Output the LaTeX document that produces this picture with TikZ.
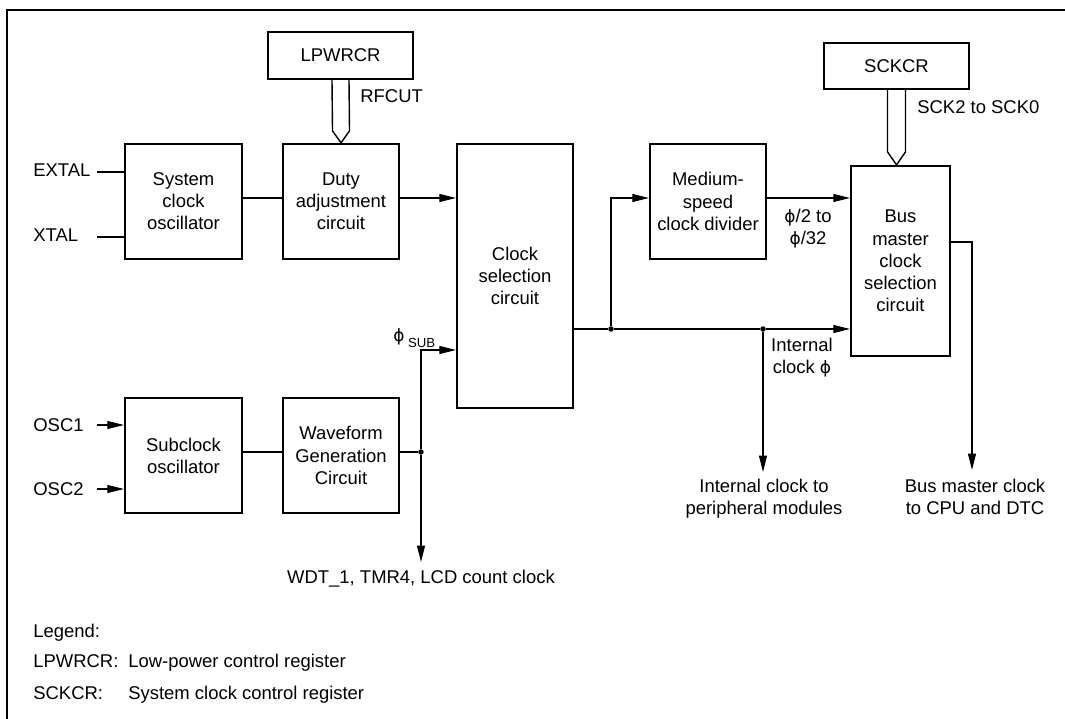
\documentclass[tikz,border=0pt]{standalone}
\usepackage{fontspec}
\setmainfont{Liberation Sans}
\newfontfamily\phifont[Scale=0.92]{DejaVu Sans}
\usepackage{tikz}
\usetikzlibrary{arrows.meta,calc,positioning}
\newcommand{\phiup}{{\phifont ϕ}}
\tikzset{
  box/.style   = {draw, line width=1.3pt, align=center, inner sep=0pt,
                  font=\fontsize{10.5}{12.6}\selectfont},
  wire/.style  = {line width=0.6pt},
  sig/.style   = {line width=0.6pt, -{Triangle[length=3.3mm,width=1.6mm]}},
  dot/.style   = {circle, fill=black, inner sep=1.1pt},
  lbl/.style   = {font=\fontsize{10.5}{12.6}\selectfont, inner sep=0pt, align=center},
  busarr/.style = {line width=0.8pt, line join=miter},
  frame/.style = {line width=1.4pt},
}

\begin{document}
\begin{tikzpicture}[x=0.02cm,y=-0.02cm]
  \useasboundingbox (0,0) rectangle (1065,719);
  \draw[frame] (7,719) -- (7,10) -- (1065,10);
  % registers
  \node[box, minimum width=2.9cm, minimum height=0.94cm] (lpwrcr) at (340.5,55.5) {LPWRCR};
  \node[box, minimum width=2.9cm, minimum height=0.92cm] (sckcr) at (896.5,66) {SCKCR};
  % circuit blocks
  \node[box, minimum width=2.34cm, minimum height=2.3cm] (sysosc) at (183.5,201.5) {System\\clock\\oscillator};
  \node[box, minimum width=2.32cm, minimum height=2.3cm] (duty) at (341,201.5) {Duty\\adjustment\\circuit};
  \node[box, minimum width=2.32cm, minimum height=5.28cm] (clksel) at (515,276) {Clock\\selection\\circuit};
  \node[box, minimum width=2.32cm, minimum height=2.3cm] (mscd) at (708,201.5) {Medium-\\speed\\clock divider};
  \node[box, minimum width=1.98cm, minimum height=3.8cm] (busm) at (900.5,261) {Bus\\master\\clock\\selection\\circuit};
  \node[box, minimum width=2.34cm, minimum height=2.3cm] (subosc) at (183.5,455.5) {Subclock\\oscillator};
  \node[box, minimum width=2.32cm, minimum height=2.3cm] (wave) at (341,455.5) {Waveform\\Generation\\Circuit};
  % rows, junctions and free ends
  \coordinate (r1) at (0,198);
  \coordinate (r2) at (0,329);
  \coordinate (rsub) at (0,350);
  \coordinate (r3) at (0,452);
  \node[dot] (j1) at (611,329) {};
  \node[dot] (j2) at (763,329) {};
  \node[dot] (j3) at (421,452) {};
  \coordinate (pout) at (763,472);
  \coordinate (bcorner) at (972,242);
  \coordinate (bout) at (972,470);
  \coordinate (wout) at (421,562);
  % pins
  \node[lbl, anchor=base west] (extal) at (33,177) {EXTAL};
  \node[lbl, anchor=base west] (xtal) at (33,242) {XTAL};
  \node[lbl, anchor=base west] (osc1) at (33,432) {OSC1};
  \node[lbl, anchor=base west] (osc2) at (33,495) {OSC2};
  \coordinate (extalp) at (97,172);
  \coordinate (xtalp) at (97,237);
  \coordinate (osc1p) at (97,425);
  \coordinate (osc2p) at (97,489);
  \draw[wire] (extalp) -- (extalp -| sysosc.west);
  \draw[wire] (xtalp) -- (xtalp -| sysosc.west);
  \draw[sig] (osc1p) -- (osc1p -| subosc.west);
  \draw[sig] (osc2p) -- (osc2p -| subosc.west);
  % system clock path
  \draw[wire] (sysosc.east |- r1) -- (duty.west |- r1);
  \draw[sig] (duty.east |- r1) -- (clksel.west |- r1);
  \draw[busarr] ($(lpwrcr.south)+(-8.5,0)$) -- ($(duty.north)+(-8.5,-12)$) -- (duty.north)
    -- ($(duty.north)+(8.5,-12)$) -- ($(lpwrcr.south)+(8.5,0)$);
  \node[lbl, anchor=base west] (rfcut) at (360,103) {RFCUT};
  % subclock path
  \draw[wire] (subosc.east |- r3) -- (wave.west |- r3);
  \draw[wire] (wave.east |- r3) -- (j3);
  \draw[sig] (j3) -- (j3 |- rsub) -- (clksel.west |- rsub);
  \draw[sig] (j3) -- (wout);
  \node[lbl, anchor=base west] (phisub) at (393,342)
    {\phiup\hspace{2pt}\raisebox{-3pt}{\fontsize{7.5}{9}\selectfont SUB}};
  \node[lbl, anchor=base] (wdt) at (421,583) {WDT\_1, TMR4, LCD count clock};
  % internal clock
  \draw[wire] (clksel.east |- r2) -- (j1);
  \draw[wire] (j1) -- (j2);
  \draw[sig] (j2) -- (busm.west |- r2);
  \draw[sig] (j1) -- (j1 |- r1) -- (mscd.west |- r1);
  \draw[sig] (mscd.east |- r1) -- (busm.west |- r1);
  \draw[sig] (j2) -- (pout);
  \node[lbl] (divlbl) at (808,229) {\phiup/2 to\\\phiup/32};
  \node[lbl] (intlbl) at (802,358) {Internal\\clock \phiup};
  \node[lbl] (perilbl) at (764,498.5) {Internal clock to\\peripheral modules};
  % bus master clock
  \draw[busarr] ($(sckcr.south)+(-9,0)$) -- ($(sckcr.south |- busm.north)+(-9,-13)$) -- (sckcr.south |- busm.north)
    -- ($(sckcr.south |- busm.north)+(9,-13)$) -- ($(sckcr.south)+(9,0)$);
  \node[lbl, anchor=base west] (scklbl) at (917,114) {SCK2 to SCK0};
  \draw[sig] (busm.east |- bcorner) -- (bcorner) -- (bout);
  \node[lbl] (cpulbl) at (975,496.5) {Bus master clock\\to CPU and DTC};
  % legend
  \node[lbl, anchor=base west] (leg) at (33,637) {Legend:};
  \node[lbl, anchor=base west] (leg1) at (33,667) {LPWRCR:};
  \node[lbl, anchor=base west] (leg1t) at (128,667) {Low-power control register};
  \node[lbl, anchor=base west] (leg2) at (33,699) {SCKCR:};
  \node[lbl, anchor=base west] (leg2t) at (128,699) {System clock control register};
\end{tikzpicture}
\end{document}
